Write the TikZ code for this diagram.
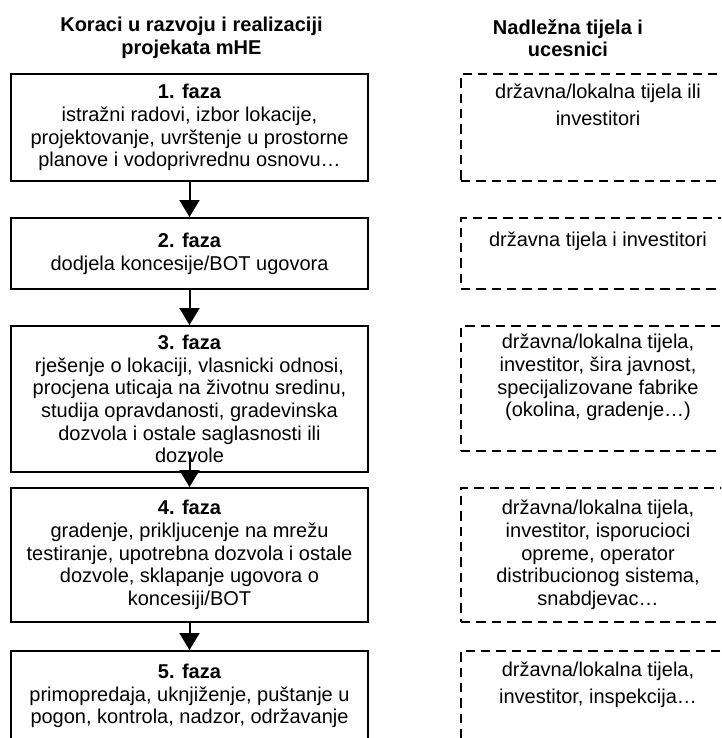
\documentclass[tikz,border=0pt]{standalone}
\usepackage{fontspec}
\setmainfont{Liberation Sans}
\usetikzlibrary{arrows.meta,positioning}
\tikzset{
  faza/.style={draw, line width=1.5pt, align=center, inner sep=0pt,
    minimum width=357*0.75pt, font=\fontsize{15}{17}\selectfont},
  ucesnik/.style={draw, line width=1.5pt, dash pattern=on 7pt off 4.5pt,
    align=center, inner sep=0pt, minimum width=274*0.75pt,
    font=\fontsize{15}{17}\selectfont},
  tekst/.style={align=center, inner sep=0pt, font=\fontsize{15}{17}\selectfont},
  sirok/.style={tekst, font=\fontsize{15}{20.25}\selectfont},
  naslov/.style={align=center, inner sep=0pt, font=\fontsize{15}{17}\selectfont\bfseries},
  strelica/.style={line width=1.5pt, -{Triangle[width=15pt,length=12.75pt]}}
}
\begin{document}
\begin{tikzpicture}[x=0.75pt,y=-0.75pt]
		\useasboundingbox (0,0) rectangle (721,738);
		\clip (0,0) rectangle (721,738);
		% naslovi
		\node[naslov] (n1) at (191.5,38) {Koraci u razvoju i realizaciji\\projekata mHE};
		\node[naslov] (n2) at (568,38) {Nadležna tijela i\\ucesnici};
		% faze
		\node[faza, anchor=north, minimum height=107*0.75pt] (f1) at (189.5,73)
			{\textbf{1. faza}\\istražni radovi, izbor lokacije,\\projektovanje, uvrštenje u prostorne\\planove i vodoprivrednu osnovu…};
		\node[faza, anchor=north, minimum height=71*0.75pt] (f2) at (189.5,217)
			{\textbf{2. faza}\\dodjela koncesije/BOT ugovora};
		\node[faza, anchor=north, minimum height=146*0.75pt] (f3) at (189.5,325)
			{\textbf{3. faza}\\rješenje o lokaciji, vlasnicki odnosi,\\procjena uticaja na životnu sredinu,\\studija opravdanosti, gradevinska\\dozvola i ostale saglasnosti ili\\dozvole};
		\node[faza, anchor=north, minimum height=134*0.75pt] (f4) at (189.5,487)
			{\textbf{4. faza}\\gradenje, prikljucenje na mrežu\\testiranje, upotrebna dozvola i ostale\\dozvole, sklapanje ugovora o\\koncesiji/BOT};
		\node[faza, anchor=north, minimum height=90*0.75pt] (f5) at (189.5,650)
			{\textbf{5. faza}\\primopredaja, uknjiženje, puštanje u\\pogon, kontrola, nadzor, održavanje};
		\coordinate (a3) at (189.5,452);
		\draw[strelica] (f1.south) -- (f2.north);
		\draw[strelica] (f2.south) -- (f3.north);
		\draw[strelica] (a3) -- (f4.north);
		\draw[strelica] (f4.south) -- (f5.north);
		% ucesnici
		\node[ucesnik, anchor=north, minimum height=107*0.75pt] (d1) at (598,73) {};
		\node[sirok, anchor=north] (t1) at (598,84) {državna/lokalna tijela ili\\investitori};
		\node[ucesnik, anchor=north, minimum height=71*0.75pt] (d2) at (598,217) {};
		\node[tekst, anchor=north] (t2) at (598,232) {državna tijela i investitori};
		\node[ucesnik, anchor=north, minimum height=125*0.75pt] (d3) at (598,325) {};
		\node[tekst, anchor=north] (t3) at (598,334)
			{državna/lokalna tijela,\\investitor, šira javnost,\\specijalizovane fabrike\\ (okolina, gradenje…)};
		\node[ucesnik, anchor=north, minimum height=134*0.75pt] (d4) at (598,487)
			{državna/lokalna tijela,\\investitor, isporucioci\\opreme, operator\\distribucionog sistema,\\snabdjevac…};
		\node[ucesnik, anchor=north, minimum height=110*0.75pt] (d5) at (598,650) {};
		\node[sirok, anchor=north] (t5) at (598,662) {državna/lokalna tijela,\\investitor, inspekcija…};
\end{tikzpicture}
\end{document}
